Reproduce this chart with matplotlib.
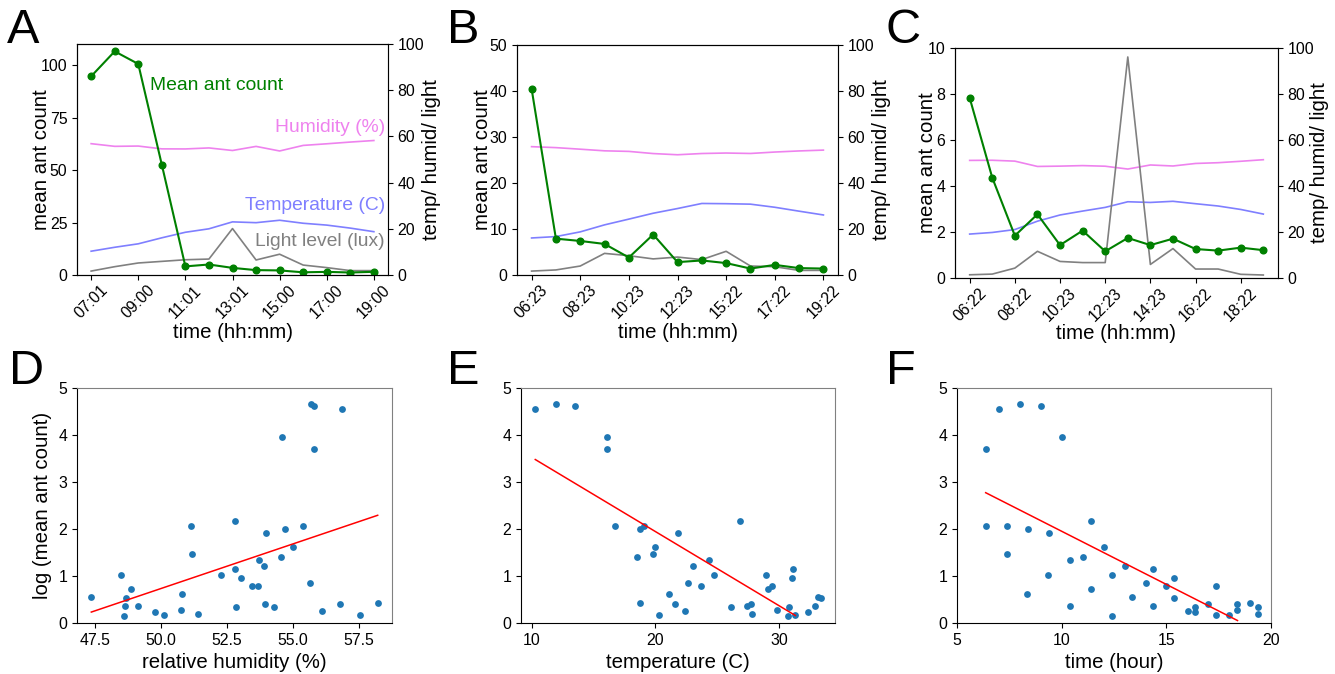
import numpy as np
import matplotlib
matplotlib.use("Agg")
import matplotlib.pyplot as plt

plt.rcParams['font.family'] = ['Liberation Sans', 'DejaVu Sans']

# sampling times (hh:mm) for the three days
times_a = ['07:01', '08:01', '09:00', '10:00', '11:01', '12:01', '13:01',
           '14:01', '15:00', '16:01', '17:00', '18:01', '19:00']
times_b = ['06:23', '07:23', '08:23', '09:23', '10:23', '11:23', '12:23',
           '14:22', '15:22', '16:22', '17:22', '18:22', '19:22']
times_c = ['06:22', '07:22', '08:22', '09:22', '10:23', '11:23', '12:23',
           '13:23', '14:23', '15:23', '16:22', '17:22', '18:22', '19:22']

# mean ant counts
ants_a = [94.6, 106.5, 100.5, 52.5, 4.1, 5.0, 3.39, 2.32, 2.18, 1.28, 1.49, 1.19, 1.52]
ants_b = [40.5, 7.9, 7.4, 6.75, 3.8, 8.8, 2.8, 3.16, 2.59, 1.40, 2.2, 1.5, 1.40]
ants_c = [7.83, 4.36, 1.84, 2.77, 1.43, 2.06, 1.16, 1.74, 1.43, 1.71, 1.26, 1.19, 1.32, 1.21]

# relative humidity (%)
humid_a = [56.85, 55.7, 55.82, 54.6, 54.57, 55.01, 53.9, 55.67, 53.69, 56.1, 56.8, 57.55, 58.22]
humid_b = [55.8, 55.38, 54.7, 53.99, 53.74, 52.8, 52.28, 52.82, 53.03, 52.84, 53.46, 53.94, 54.3]
humid_c = [51.13, 51.19, 50.81, 48.5, 48.64, 48.87, 48.6, 47.37, 49.14, 48.7, 49.8, 50.13, 50.75, 51.43]

# temperature (C)
temp_a = [10.3, 12.0, 13.5, 16.1, 18.5, 20.0, 23.0, 22.65, 23.7, 22.4, 21.6, 20.3, 18.75]
temp_b = [16.1, 16.7, 18.75, 21.8, 24.3, 26.85, 28.9, 31.1, 31.0, 30.8, 29.45, 27.75, 26.1]
temp_c = [19.1, 19.8, 21.06, 24.7, 27.4, 29.1, 30.7, 33.15, 32.85, 33.35, 32.3, 31.3, 29.8, 27.8]

# light level (lux, scaled)
light_a = [1.7, 3.6, 5.2, 5.9, 6.6, 6.9, 20.1, 6.5, 9.0, 4.3, 3.2, 1.9, 1.9]
light_b = [1.7, 2.2, 3.9, 9.4, 8.4, 7.0, 7.8, 6.7, 10.3, 3.9, 3.6, 2.0, 2.0]
light_c = [1.4, 1.7, 4.3, 11.6, 7.2, 6.7, 6.7, 96.1, 5.9, 12.8, 3.9, 3.9, 1.6, 1.3]

ant_ylims = [110, 50, 10]
ant_yticks = [[0, 25, 50, 75, 100], [0, 10, 20, 30, 40, 50], [0, 2, 4, 6, 8, 10]]

# x ticks of the scatter panels
scatter_xticks = [[47.5, 50.0, 52.5, 55.0, 57.5], [10, 20, 30], [5, 10, 15, 20]]
scatter_xticklabels = [['47.5', '50.0', '52.5', '55.0', '57.5'], ['10', '20', '30'],
                       ['5', '10', '15', '20']]

# x extent of the fitted lines (humidity, temperature, hour)
fit_ranges = [(47.37, 58.22), (10.3, 31.3), (6.37, 18.4)]

LAB = 14.7
TICK = 11.4
W, H = 1335, 674

fig = plt.figure(figsize=(W / 100, H / 100), dpi=100)


def box(l, t, r, b):
    return [l / W, 1 - b / H, (r - l) / W, (b - t) / H]


top_boxes = [box(77, 44, 388, 275), box(517, 45, 838, 275), box(955, 48, 1278, 278)]
bot_boxes = [box(77, 388, 392, 623), box(521, 388, 835, 623), box(957, 388, 1271, 623)]

# label placement (axes fraction) for the top row
left_lab_x = [-0.083, -0.079, -0.056]
right_lab_x = [1.108, 1.105, 1.099]
bottom_lab_y = [-0.207, -0.21, -0.198]

days = [(times_a, ants_a, humid_a, temp_a, light_a),
        (times_b, ants_b, humid_b, temp_b, light_b),
        (times_c, ants_c, humid_c, temp_c, light_c)]

for i, (times, ants, humid, temp, light) in enumerate(days):
    ax = fig.add_axes(top_boxes[i])
    ax2 = ax.twinx()
    idx = np.arange(len(times))
    ax2.plot(idx, humid, color='violet', lw=1.2)
    ax2.plot(idx, temp, color='#7f7fff', lw=1.2)
    ax2.plot(idx, light, color='gray', lw=1.2)
    ax2.set_ylim(0, 100)
    ax2.set_yticks([0, 20, 40, 60, 80, 100])
    ax2.tick_params(labelsize=TICK)
    ax2.set_ylabel('temp/ humid/ light', fontsize=LAB)
    ax2.yaxis.set_label_coords(right_lab_x[i], 0.5)
    ax2.spines['right'].set_color('gray')
    ax.set_zorder(ax2.get_zorder() + 1)
    ax.patch.set_visible(False)
    ax.plot(idx, ants, color='green', marker='o', ms=4.8, lw=1.5)
    ax.set_ylim(0, ant_ylims[i])
    ax.set_yticks(ant_yticks[i])
    ax.set_xticks(idx[::2])
    ax.set_xticklabels(times[::2], rotation=45)
    ax.tick_params(labelsize=TICK)
    ax.tick_params(axis='x', pad=2)
    ax.set_ylabel('mean ant count', fontsize=LAB)
    ax.yaxis.set_label_coords(left_lab_x[i], 0.5)
    ax.set_xlabel('time (hh:mm)', fontsize=LAB)
    ax.xaxis.set_label_coords(0.5, bottom_lab_y[i])
    if i == 0:
        ax.text(0.235, 0.82, 'Mean ant count', color='green', fontsize=LAB - 0.8,
                transform=ax.transAxes, va='center', ha='left')
        ax.text(0.99, 0.64, 'Humidity (%)', color='violet', fontsize=LAB - 0.8,
                transform=ax.transAxes, va='center', ha='right')
        ax.text(0.99, 0.30, 'Temperature (C)', color='#7f7fff', fontsize=LAB - 0.8,
                transform=ax.transAxes, va='center', ha='right')
        ax.text(0.99, 0.143, 'Light level (lux)', color='gray', fontsize=LAB - 0.8,
                transform=ax.transAxes, va='center', ha='right')


def to_hours(ts):
    return [int(t[:2]) + int(t[3:]) / 60 for t in ts]


log_ants = np.log(np.array(ants_a + ants_b + ants_c))
xs = [humid_a + humid_b + humid_c,
      temp_a + temp_b + temp_c,
      to_hours(times_a) + to_hours(times_b) + to_hours(times_c)]
xlabels = ['relative humidity (%)', 'temperature (C)', 'time (hour)']

for i in range(3):
    ax = fig.add_axes(bot_boxes[i])
    x = np.array(xs[i])
    ax.scatter(x, log_ants, s=24, color='#1f77b4', linewidths=0)
    k, c = np.polyfit(x, log_ants, 1)
    fx = np.array(fit_ranges[i])
    ax.plot(fx, k * fx + c, color='red', lw=1.1)
    ax.set_ylim(0, 5)
    if i == 2:
        ax.set_xlim(5, 20)
    ax.set_xticks(scatter_xticks[i])
    ax.set_xticklabels(scatter_xticklabels[i])
    ax.tick_params(labelsize=TICK)
    ax.set_xlabel(xlabels[i], fontsize=LAB)
    if i == 0:
        ax.set_ylabel('log (mean ant count)', fontsize=LAB)
        ax.yaxis.set_label_coords(-0.08, 0.5)
    ax.spines['top'].set_color('gray')
    ax.spines['right'].set_color('gray')

for letter, px, py in [('A', 7, 43), ('B', 447, 43), ('C', 886, 43),
                       ('D', 9, 384), ('E', 447, 384), ('F', 886, 384)]:
    fig.text(px / W, 1 - py / H, letter, fontsize=35, ha='left', va='baseline')

fig.savefig('out.png', dpi=100)
